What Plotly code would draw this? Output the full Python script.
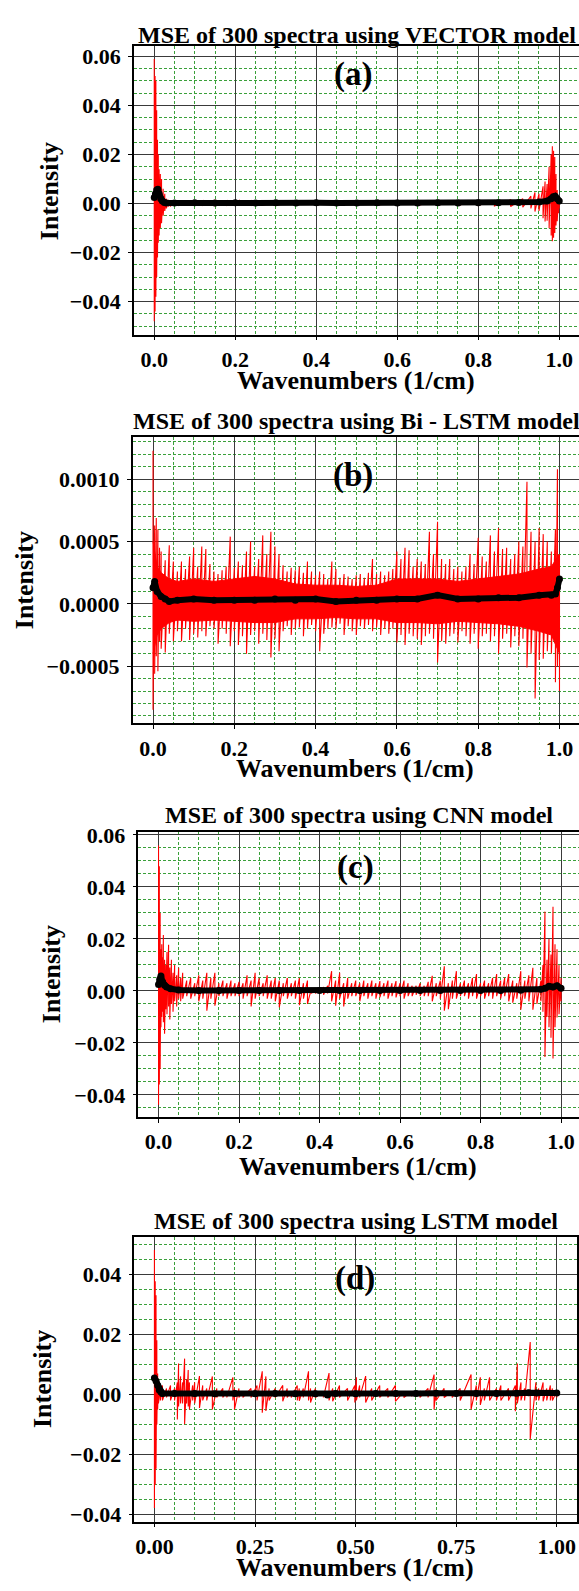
import plotly.graph_objects as go

W, H = 579, 1591
FONT = "Liberation Serif"

# ---------------- data ----------------
# Panel (a) VECTOR: envelope of the 300 residual spectra
xa = [0.000, 0.002, 0.004, 0.006, 0.008, 0.010, 0.012, 0.015, 0.018, 0.022, 0.026, 0.030, 0.035, 0.040,
      0.06, 0.09, 0.12, 0.15, 0.18, 0.21, 0.24, 0.27, 0.30, 0.35, 0.40, 0.45, 0.50, 0.55, 0.60, 0.65,
      0.70, 0.75, 0.80, 0.84, 0.88, 0.91, 0.93, 0.94, 0.95, 0.96, 0.965, 0.97, 0.975, 0.98, 0.983,
      0.986, 0.989, 0.992, 0.995, 0.998, 1.000]
hia = [0.059, 0.052, 0.050, 0.038, 0.026, 0.020, 0.014, 0.012, 0.010, 0.006, 0.004, 0.002, 0.0015, 0.001,
       0.0008, 0.0009, 0.0012, 0.0014, 0.0012, 0.0013, 0.0012, 0.0011, 0.0010, 0.0009, 0.0010, 0.0008, 0.0009, 0.0010,
       0.0008, 0.0009, 0.0008, 0.0009, 0.0010, 0.0012, 0.0015, 0.0020, 0.0030, 0.0045, 0.0040, 0.0070,
       0.0090, 0.0080, 0.0150, 0.0200, 0.0234, 0.0215, 0.0190, 0.0120, 0.0055, 0.0030, 0.0020]
loa = [-0.048, -0.044, -0.038, -0.030, -0.022, -0.016, -0.013, -0.010, -0.008, -0.005, -0.003, -0.002, -0.0012, -0.001,
       -0.0008, -0.0007, -0.0008, -0.0009, -0.0008, -0.0007, -0.0008, -0.0007, -0.0008, -0.0007, -0.0006, -0.0007, -0.0006, -0.0007,
       -0.0006, -0.0007, -0.0006, -0.0007, -0.0008, -0.0010, -0.0012, -0.0015, -0.0020, -0.0033, -0.0030, -0.0060,
       -0.0073, -0.0070, -0.0101, -0.0130, -0.0154, -0.0140, -0.0120, -0.0090, -0.0072, -0.0040, -0.0020]
xma = [0.000, 0.003, 0.006, 0.009, 0.012, 0.016, 0.020, 0.025, 0.030, 0.05, 0.10, 0.15, 0.20, 0.25, 0.30,
       0.35, 0.40, 0.45, 0.50, 0.55, 0.60, 0.65, 0.70, 0.75, 0.80, 0.85, 0.90, 0.95, 0.97, 0.98, 0.985,
       0.99, 0.995, 1.000]
yma = [0.0025, 0.0040, 0.0055, 0.0058, 0.0040, 0.0020, 0.0010, 0.0004, 0.0002, 0.0002, 0.0003, 0.0002, 0.0003,
       0.0002, 0.0003, 0.0002, 0.0003, 0.0002, 0.0002, 0.0003, 0.0002, 0.0002, 0.0003, 0.0002, 0.0003, 0.0003,
       0.0004, 0.0006, 0.0010, 0.0020, 0.0028, 0.0030, 0.0020, 0.0010]

# Panel (b) Bi-LSTM: spikes
xb = [0.000, 0.004, 0.008, 0.012, 0.016, 0.020, 0.03, 0.04, 0.05, 0.06, 0.07, 0.08, 0.09, 0.10, 0.11, 0.12,
      0.13, 0.14, 0.15, 0.16, 0.17, 0.18, 0.19, 0.20, 0.21, 0.22, 0.23, 0.24, 0.25, 0.26, 0.27, 0.28, 0.29,
      0.30, 0.31, 0.32, 0.33, 0.34, 0.35, 0.36, 0.37, 0.38, 0.39, 0.40, 0.41, 0.42, 0.43, 0.44, 0.45, 0.46,
      0.47, 0.48, 0.49, 0.50, 0.51, 0.52, 0.53, 0.54, 0.55, 0.56, 0.57, 0.58, 0.59, 0.60, 0.61, 0.62, 0.63,
      0.64, 0.65, 0.66, 0.67, 0.68, 0.69, 0.70, 0.71, 0.72, 0.73, 0.74, 0.75, 0.76, 0.77, 0.78, 0.79, 0.80,
      0.81, 0.82, 0.83, 0.84, 0.85, 0.86, 0.87, 0.88, 0.89, 0.90, 0.91, 0.92, 0.93, 0.94, 0.95, 0.96, 0.97,
      0.98, 0.99, 0.995, 1.000]
hib = [0.00123, 0.00063, 0.00069, 0.00060, 0.00045, 0.00042, 0.00035, 0.00047, 0.00034, 0.00026, 0.00034,
       0.00028, 0.00038, 0.00045, 0.00030, 0.00046, 0.00044, 0.00032, 0.00026, 0.00024, 0.00027, 0.00030,
       0.00054, 0.00029, 0.00034, 0.00031, 0.00042, 0.00050, 0.00030, 0.00036, 0.00055, 0.00040, 0.00058,
       0.00046, 0.00040, 0.00031, 0.00026, 0.00029, 0.00027, 0.00030, 0.00025, 0.00034, 0.00026, 0.00023,
       0.00026, 0.00024, 0.00020, 0.00034, 0.00028, 0.00021, 0.00024, 0.00022, 0.00020, 0.00023, 0.00024,
       0.00021, 0.00025, 0.00036, 0.00024, 0.00026, 0.00023, 0.00026, 0.00028, 0.00042, 0.00036, 0.00045,
       0.00043, 0.00030, 0.00036, 0.00034, 0.00032, 0.00058, 0.00040, 0.00066, 0.00036, 0.00032, 0.00036,
       0.00028, 0.00030, 0.00026, 0.00030, 0.00040, 0.00032, 0.00053, 0.00038, 0.00034, 0.00055, 0.00042,
       0.00061, 0.00044, 0.00045, 0.00036, 0.00040, 0.00050, 0.00046, 0.00098, 0.00058, 0.00050, 0.00061,
       0.00056, 0.00050, 0.00042, 0.00060, 0.00108, 0.00040]
lob = [-0.00085, -0.00056, -0.00042, -0.00054, -0.00030, -0.00036, -0.00039, -0.00024, -0.00030, -0.00022,
       -0.00030, -0.00020, -0.00029, -0.00024, -0.00027, -0.00022, -0.00026, -0.00018, -0.00020, -0.00032,
       -0.00020, -0.00024, -0.00034, -0.00022, -0.00033, -0.00026, -0.00040, -0.00025, -0.00022, -0.00032,
       -0.00024, -0.00029, -0.00043, -0.00028, -0.00038, -0.00022, -0.00018, -0.00025, -0.00020, -0.00019,
       -0.00026, -0.00020, -0.00017, -0.00022, -0.00038, -0.00024, -0.00020, -0.00019, -0.00020, -0.00016,
       -0.00025, -0.00018, -0.00022, -0.00025, -0.00018, -0.00020, -0.00017, -0.00022, -0.00019, -0.00025,
       -0.00020, -0.00024, -0.00020, -0.00031, -0.00025, -0.00033, -0.00024, -0.00026, -0.00028, -0.00033,
       -0.00026, -0.00024, -0.00028, -0.00047, -0.00030, -0.00032, -0.00026, -0.00024, -0.00031, -0.00022,
       -0.00026, -0.00032, -0.00024, -0.00036, -0.00026, -0.00024, -0.00030, -0.00026, -0.00040, -0.00028,
       -0.00024, -0.00035, -0.00026, -0.00034, -0.00028, -0.00051, -0.00040, -0.00076, -0.00045, -0.00044,
       -0.00038, -0.00040, -0.00063, -0.00050, -0.00070]
# Panel (b): dense core of the red band
xcb = [0.000, 0.010, 0.020, 0.040, 0.060, 0.10, 0.15, 0.20, 0.25, 0.30, 0.35, 0.40, 0.45, 0.50, 0.55,
       0.60, 0.65, 0.70, 0.75, 0.80, 0.85, 0.90, 0.95, 0.98, 1.000]
chib = [0.00050, 0.00030, 0.00025, 0.00020, 0.00018, 0.00020, 0.00018, 0.00020, 0.00022, 0.00020, 0.00016,
        0.00015, 0.00015, 0.00014, 0.00015, 0.00020, 0.00020, 0.00020, 0.00018, 0.00020, 0.00022, 0.00024,
        0.00028, 0.00030, 0.00040]
clob = [-0.00040, -0.00025, -0.00020, -0.00015, -0.00013, -0.00014, -0.00013, -0.00014, -0.00015, -0.00015,
        -0.00012, -0.00012, -0.00011, -0.00012, -0.00012, -0.00015, -0.00015, -0.00016, -0.00014, -0.00015,
        -0.00016, -0.00018, -0.00022, -0.00025, -0.00040]
xmb = [0.000, 0.004, 0.010, 0.020, 0.030, 0.040, 0.06, 0.10, 0.15, 0.20, 0.25, 0.30, 0.35, 0.40, 0.45,
       0.50, 0.55, 0.60, 0.65, 0.70, 0.75, 0.80, 0.85, 0.90, 0.95, 0.98, 0.99, 0.995, 1.000]
ymb = [0.00013, 0.00018, 0.00010, 0.00006, 0.00004, 0.00002, 0.00003, 0.00004, 0.00003, 0.00003, 0.00003,
       0.00004, 0.00003, 0.00004, 0.00002, 0.00003, 0.00003, 0.00004, 0.00004, 0.00007, 0.00004, 0.00004,
       0.00005, 0.00005, 0.00007, 0.00007, 0.00008, 0.00013, 0.00020]

# Panel (c) CNN
xc = [0.000, 0.002, 0.004, 0.006, 0.008, 0.010, 0.012, 0.015, 0.018, 0.021, 0.025, 0.028, 0.032, 0.036,
      0.040, 0.045, 0.050, 0.055, 0.060, 0.07, 0.08, 0.09, 0.10, 0.11, 0.12, 0.13, 0.14, 0.15, 0.16, 0.17,
      0.18, 0.19, 0.20, 0.21, 0.22, 0.23, 0.24, 0.25, 0.26, 0.27, 0.28, 0.29, 0.30, 0.31, 0.32, 0.33, 0.34,
      0.35, 0.36, 0.37, 0.38, 0.39, 0.40, 0.41, 0.42, 0.43, 0.44, 0.45, 0.46, 0.47, 0.48, 0.49, 0.50, 0.51,
      0.52, 0.53, 0.54, 0.55, 0.56, 0.57, 0.58, 0.59, 0.60, 0.61, 0.62, 0.63, 0.64, 0.65, 0.66, 0.67, 0.68,
      0.69, 0.70, 0.71, 0.72, 0.73, 0.74, 0.75, 0.76, 0.77, 0.78, 0.79, 0.80, 0.81, 0.82, 0.83, 0.84, 0.85,
      0.86, 0.87, 0.88, 0.89, 0.90, 0.91, 0.92, 0.93, 0.94, 0.95, 0.955, 0.96, 0.965, 0.97, 0.975, 0.98,
      0.985, 0.99, 0.995, 1.000]
hic = [0.0559, 0.048, 0.030, 0.016, 0.018, 0.013, 0.0215, 0.012, 0.010, 0.015, 0.0178, 0.009, 0.012, 0.007,
       0.010, 0.006, 0.0089, 0.005, 0.007, 0.004, 0.005, 0.003, 0.006, 0.004, 0.007, 0.005, 0.007, 0.003,
       0.004, 0.003, 0.004, 0.003, 0.0035, 0.003, 0.006, 0.004, 0.007, 0.005, 0.003, 0.006, 0.004, 0.005,
       0.004, 0.003, 0.005, 0.003, 0.004, 0.005, 0.003, 0.004, 0.001, 0.001, 0.001, 0.0015, 0.002, 0.0076,
       0.004, 0.007, 0.003, 0.005, 0.003, 0.004, 0.003, 0.004, 0.003, 0.004, 0.003, 0.0038, 0.003, 0.004,
       0.003, 0.0038, 0.003, 0.004, 0.003, 0.002, 0.002, 0.003, 0.002, 0.0035, 0.0058, 0.003, 0.004, 0.0095,
       0.003, 0.004, 0.0076, 0.003, 0.004, 0.003, 0.005, 0.0065, 0.003, 0.004, 0.003, 0.005, 0.0065, 0.004,
       0.005, 0.0065, 0.004, 0.003, 0.0076, 0.004, 0.006, 0.0089, 0.005, 0.004, 0.010, 0.0305, 0.012, 0.020,
       0.014, 0.0324, 0.018, 0.016, 0.010, 0.005]
loc = [-0.0438, -0.036, -0.030, -0.014, -0.010, -0.008, -0.012, -0.0165, -0.007, -0.009, -0.006, -0.011,
       -0.005, -0.008, -0.004, -0.006, -0.003, -0.004, -0.003, -0.002, -0.003, -0.002, -0.004, -0.003,
       -0.0076, -0.003, -0.0057, -0.002, -0.002, -0.003, -0.002, -0.002, -0.002, -0.003, -0.002, -0.006,
       -0.003, -0.002, -0.002, -0.003, -0.003, -0.004, -0.0063, -0.002, -0.003, -0.002, -0.003, -0.0055,
       -0.003, -0.005, -0.001, -0.001, -0.001, -0.0015, -0.001, -0.004, -0.0057, -0.003, -0.006, -0.003,
       -0.002, -0.002, -0.004, -0.002, -0.003, -0.002, -0.003, -0.0025, -0.002, -0.003, -0.002, -0.0025,
       -0.002, -0.003, -0.002, -0.002, -0.0015, -0.002, -0.002, -0.002, -0.004, -0.002, -0.003, -0.0076,
       -0.007, -0.003, -0.003, -0.002, -0.002, -0.003, -0.002, -0.003, -0.002, -0.003, -0.002, -0.003,
       -0.002, -0.003, -0.002, -0.004, -0.0045, -0.003, -0.0072, -0.003, -0.004, -0.0072, -0.005, -0.004,
       -0.008, -0.0254, -0.010, -0.014, -0.018, -0.026, -0.014, -0.0102, -0.009, -0.004]
xmc = [0.000, 0.003, 0.006, 0.010, 0.015, 0.020, 0.030, 0.050, 0.10, 0.15, 0.20, 0.25, 0.30, 0.35, 0.40,
       0.45, 0.50, 0.55, 0.60, 0.65, 0.70, 0.75, 0.80, 0.85, 0.90, 0.95, 0.96, 0.97, 0.98, 0.99, 1.000]
ymc = [0.0025, 0.0045, 0.0057, 0.0035, 0.0022, 0.0015, 0.0008, 0.0004, 0.0002, 0.0002, 0.0002, 0.0002,
       0.0002, 0.0002, 0.0002, 0.0002, 0.0002, 0.0002, 0.0002, 0.0002, 0.0002, 0.0002, 0.0002, 0.0002,
       0.0003, 0.0006, 0.0010, 0.0018, 0.0015, 0.0020, 0.0010]

# Panel (d) LSTM
xd = [0.000, 0.002, 0.004, 0.006, 0.008, 0.010, 0.015, 0.020, 0.030, 0.040, 0.050, 0.057, 0.060, 0.065,
      0.070, 0.075, 0.080, 0.084, 0.087, 0.095, 0.100, 0.112, 0.120, 0.130, 0.144, 0.155, 0.170, 0.180,
      0.195, 0.199, 0.210, 0.220, 0.240, 0.255, 0.268, 0.277, 0.285, 0.300, 0.319, 0.330, 0.340, 0.355,
      0.360, 0.370, 0.383, 0.388, 0.400, 0.420, 0.434, 0.443, 0.460, 0.480, 0.498, 0.502, 0.510, 0.525,
      0.540, 0.560, 0.580, 0.599, 0.620, 0.640, 0.660, 0.680, 0.695, 0.700, 0.720, 0.740, 0.760, 0.787,
      0.800, 0.810, 0.820, 0.833, 0.850, 0.861, 0.880, 0.897, 0.902, 0.911, 0.920, 0.934, 0.948, 0.955,
      0.966, 0.975, 0.984, 0.989, 1.000]
hid = [0.048, 0.0376, 0.033, 0.018, 0.007, 0.004, 0.002, 0.003, 0.002, 0.003, 0.002, 0.004, 0.0103, 0.006,
       0.004, 0.0119, 0.005, 0.0081, 0.004, 0.003, 0.004, 0.0061, 0.003, 0.002, 0.006, 0.002, 0.002, 0.001,
       0.0057, 0.002, 0.002, 0.001, 0.002, 0.003, 0.0077, 0.006, 0.002, 0.002, 0.003, 0.002, 0.001, 0.003,
       0.002, 0.002, 0.0077, 0.002, 0.002, 0.001, 0.0071, 0.002, 0.003, 0.002, 0.003, 0.0057, 0.003, 0.0061,
       0.002, 0.003, 0.002, 0.003, 0.001, 0.001, 0.001, 0.002, 0.0066, 0.002, 0.002, 0.001, 0.002, 0.0066,
       0.003, 0.0057, 0.002, 0.0057, 0.002, 0.003, 0.002, 0.003, 0.0103, 0.004, 0.002, 0.0174, 0.004, 0.002,
       0.004, 0.002, 0.003, 0.002, 0.001]
lod = [-0.0378, -0.030, -0.0247, -0.010, -0.005, -0.003, -0.002, -0.002, -0.001, -0.002, -0.002, -0.0083,
       -0.004, -0.003, -0.003, -0.0099, -0.003, -0.004, -0.005, -0.002, -0.003, -0.0045, -0.002, -0.002,
       -0.005, -0.001, -0.001, -0.001, -0.002, -0.005, -0.001, -0.001, -0.001, -0.002, -0.0061, -0.0055,
       -0.002, -0.001, -0.0023, -0.001, -0.001, -0.002, -0.0021, -0.001, -0.002, -0.0027, -0.001, -0.001,
       -0.002, -0.0023, -0.001, -0.002, -0.0027, -0.002, -0.001, -0.0027, -0.002, -0.001, -0.001, -0.0023,
       -0.001, -0.0005, -0.001, -0.001, -0.005, -0.002, -0.001, -0.001, -0.002, -0.005, -0.002, -0.0035,
       -0.002, -0.002, -0.002, -0.002, -0.002, -0.0056, -0.003, -0.002, -0.002, -0.0149, -0.002, -0.002,
       -0.0023, -0.002, -0.002, -0.002, -0.001]
xmd = [0.000, 0.004, 0.008, 0.012, 0.016, 0.020, 0.05, 0.10, 0.15, 0.20, 0.25, 0.30, 0.35, 0.40, 0.43,
       0.45, 0.50, 0.55, 0.60, 0.65, 0.70, 0.75, 0.80, 0.85, 0.90, 0.93, 0.95, 1.000]
ymd = [0.0055, 0.0045, 0.0030, 0.0015, 0.0008, 0.0003, 0.0003, 0.0003, 0.0002, 0.0003, 0.0002, 0.0003,
       0.0002, 0.0002, -0.0002, 0.0003, 0.0002, 0.0003, 0.0003, 0.0003, 0.0004, 0.0003, 0.0003, 0.0003,
       0.0004, 0.0006, 0.0005, 0.0005]

titles = ["MSE of 300 spectra using VECTOR model",
          "MSE of 300 spectra using Bi - LSTM model",
          "MSE of 300 spectra using CNN model",
          "MSE of 300 spectra using LSTM model"]
labels = ["(a)", "(b)", "(c)", "(d)"]
xtick_vals = [[0, 0.2, 0.4, 0.6, 0.8, 1.0]] * 3 + [[0, 0.25, 0.5, 0.75, 1.0]]
xtick_text = [["0.0", "0.2", "0.4", "0.6", "0.8", "1.0"]] * 3 + [["0.00", "0.25", "0.50", "0.75", "1.00"]]
ytick_vals = [[-0.04, -0.02, 0, 0.02, 0.04, 0.06],
              [-0.0005, 0, 0.0005, 0.0010],
              [-0.04, -0.02, 0, 0.02, 0.04, 0.06],
              [-0.04, -0.02, 0, 0.02, 0.04]]
ytick_text = [["\u22120.04", "\u22120.02", "0.00", "0.02", "0.04", "0.06"],
              ["\u22120.0005", "0.0000", "0.0005", "0.0010"],
              ["\u22120.04", "\u22120.02", "0.00", "0.02", "0.04", "0.06"],
              ["\u22120.04", "\u22120.02", "0.00", "0.02", "0.04"]]
yminor = [0.005, 0.0001, 0.005, 0.005]

# ---------------- layout geometry (pixels) ----------------
boxes = [
    dict(l=134.0, r=579, t=36, b=328, xr=[-0.05, 1.0488], yr=[-0.0535, 0.0644], mir=False),
    dict(l=132.7, r=579, t=431.7, b=720.7, xr=[-0.05, 1.048], yr=[-0.00096, 0.001337], mir=False),
    dict(l=138.4, r=579, t=830.7, b=1118, xr=[-0.05, 1.0446], yr=[-0.0484, 0.0610], mir=False),
    dict(l=134.3, r=576.9, t=1239, b=1527, xr=[-0.05, 1.05], yr=[-0.0423, 0.0525], mir=True),
]
title_pos = [(357, 25), (356, 415), (359.5, 813), (355.5, 1223)]
label_pos = [(353, 65), (353, 470), (355, 866), (355, 1281)]
xlab_pos = [(356, 374), (355, 766), (358, 1168), (355, 1573)]
ylab_pos = [(49, 183), (24, 576), (51, 974), (42, 1383)]

red = [(xa, hia, loa), (xb, hib, lob), (xc, hic, loc), (xd, hid, lod)]
mean = [(xma, yma), (xmb, ymb), (xmc, ymc), (xmd, ymd)]

fig = go.Figure()


def zig(xs, hi, lo):
    X, Y = [], []
    for x, h, l in zip(xs, hi, lo):
        X += [x, x]
        Y += [h, l]
    return X, Y


def px(x):
    return x / W


def py(y):
    return 1 - y / H


annotations = []
for i in range(4):
    sfx = "" if i == 0 else str(i + 1)
    if i == 1:
        fig.add_trace(go.Scatter(x=xcb + xcb[::-1], y=chib + clob[::-1], mode="lines", fill="toself",
                                 fillcolor="#ff0000", line=dict(color="#ff0000", width=1),
                                 xaxis="x2", yaxis="y2", showlegend=False, hoverinfo="skip"))
    X, Y = zig(*red[i])
    fig.add_trace(go.Scatter(x=X, y=Y, mode="lines", line=dict(color="#ff0000", width=1.1),
                             xaxis="x" + sfx, yaxis="y" + sfx, showlegend=False, hoverinfo="skip"))
    fig.add_trace(go.Scatter(x=mean[i][0], y=mean[i][1], mode="lines+markers",
                             line=dict(color="black", width=6), marker=dict(color="black", size=7),
                             xaxis="x" + sfx, yaxis="y" + sfx, showlegend=False, hoverinfo="skip"))
    bx = boxes[i]
    tickfont = dict(family=FONT, size=22, color="black", weight="bold")
    fig.update_layout(**{
        "xaxis" + sfx: dict(domain=[px(bx["l"]), px(bx["r"])], range=bx["xr"], anchor="y" + sfx,
                            tickvals=xtick_vals[i], ticktext=xtick_text[i], tickfont=tickfont,
                            showline=True, linecolor="black", linewidth=1.5, mirror=True,
                            ticks="outside", ticklen=4, tickcolor="black", tickwidth=1.2,
                            showgrid=True, gridcolor="#3a3a3a", gridwidth=1.1, zeroline=False,
                            ticklabelstandoff=0,
                            minor=dict(dtick=0.05, tick0=0, showgrid=True, gridcolor="#3aa03a",
                                       gridwidth=1, griddash="3px,2px")),
        "yaxis" + sfx: dict(domain=[py(bx["b"]), py(bx["t"])], range=bx["yr"], anchor="x" + sfx,
                            tickvals=ytick_vals[i], ticktext=ytick_text[i], tickfont=tickfont,
                            showline=True, linecolor="black", linewidth=1.5, mirror=bx["mir"],
                            ticks="outside", ticklen=4, tickcolor="black", tickwidth=1.2,
                            showgrid=True, gridcolor="#3a3a3a", gridwidth=1.1, zeroline=False,
                            ticklabelstandoff=3,
                            minor=dict(dtick=yminor[i], tick0=0, showgrid=True, gridcolor="#3aa03a",
                                       gridwidth=1, griddash="3px,2px")),
    })
    annotations.append(dict(text=titles[i], x=px(title_pos[i][0]), y=py(title_pos[i][1]),
                            xref="paper", yref="paper", xanchor="center", yanchor="middle", showarrow=False,
                            font=dict(family=FONT, size=24, color="black", weight="bold")))
    annotations.append(dict(text=labels[i], x=px(label_pos[i][0]), y=py(label_pos[i][1]),
                            xref="paper", yref="paper", xanchor="center", yanchor="middle", showarrow=False,
                            font=dict(family=FONT, size=33, color="black", weight="bold")))
    annotations.append(dict(text="Wavenumbers (1/cm)", x=px(xlab_pos[i][0]), y=py(xlab_pos[i][1]),
                            xref="paper", yref="paper", xanchor="center", yanchor="middle", showarrow=False,
                            font=dict(family=FONT, size=26, color="black", weight="bold")))
    annotations.append(dict(text="Intensity", x=px(ylab_pos[i][0]), y=py(ylab_pos[i][1]), textangle=-90,
                            xref="paper", yref="paper", xanchor="center", yanchor="middle", showarrow=False,
                            font=dict(family=FONT, size=26, color="black", weight="bold")))

fig.update_layout(width=W, height=H, margin=dict(l=0, r=0, t=0, b=0),
                  paper_bgcolor="white", plot_bgcolor="white", annotations=annotations,
                  showlegend=False)

fig.write_html("out.html", config={"displayModeBar": False},
               post_script="document.body.style.margin='0px';")
